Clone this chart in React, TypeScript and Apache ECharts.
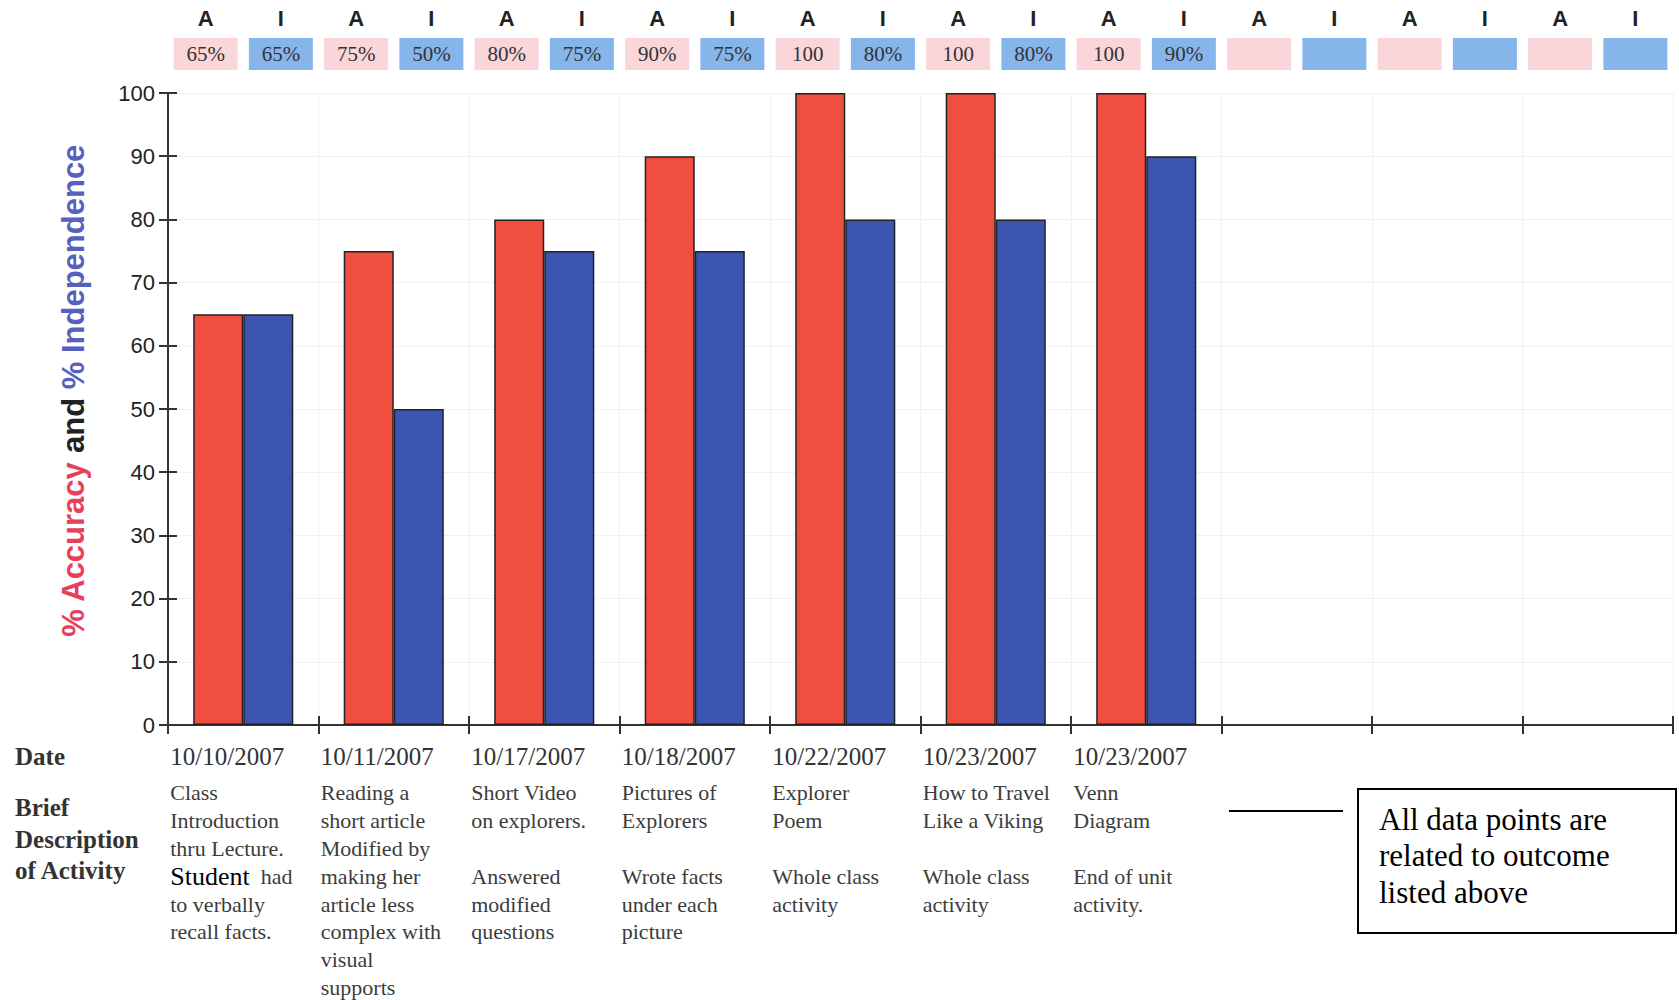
import React, { useEffect, useRef } from "react";
import * as echarts from "echarts";

const dates = ["10/10/2007", "10/11/2007", "10/17/2007", "10/18/2007", "10/22/2007", "10/23/2007", "10/23/2007", "", "", ""];
const descriptions = [
  "Class\nIntroduction\nthru Lecture.\n@@Student@@  had\nto verbally\nrecall facts.",
  "Reading a\nshort article\nModified by\nmaking her\narticle less\ncomplex with\nvisual\nsupports",
  "Short Video\non explorers.\n \nAnswered\nmodified\nquestions",
  "Pictures of\nExplorers\n \nWrote facts\nunder each\npicture",
  "Explorer\nPoem\n \nWhole class\nactivity",
  "How to Travel\nLike a Viking\n \nWhole class\nactivity",
  "Venn\nDiagram\n \nEnd of unit\nactivity.",
  "",
  "",
  "",
];
const accuracy = [65, 75, 80, 90, 100, 100, 100, null, null, null];
const independence = [65, 50, 75, 75, 80, 80, 90, null, null, null];
const headerLetters = ["A", "I"];
const yTicks = { min: 0, max: 100, interval: 10 };
const rowLabels = ["Date", "Brief\nDescription\nof Activity"];
const calloutText = "All data points are\nrelated to outcome\nlisted above";
const yTitleParts = ["% Accuracy", "and", "% Independence"];

const SERIF = "'Liberation Serif', 'Times New Roman', serif";
const SANS = "'Liberation Sans', Arial, sans-serif";

function fmtPct(v: number | null): string {
  if (v === null || v === undefined) return " ";
  return v >= 100 ? String(v) : `${v}%`;
}

export default function App() {
  const ref = useRef<HTMLDivElement>(null);
  useEffect(() => {
    if (!ref.current) return;
    const chart = echarts.init(ref.current, null, { renderer: "svg" });
    const catKeys = dates.map((_, i) => `c${i}`);
    const headerKeys: string[] = [];
    const headerTexts: string[] = [];
    const headerLetterList: string[] = [];
    for (let i = 0; i < dates.length; i++) {
      headerKeys.push(`a${i}`, `i${i}`);
      headerTexts.push(fmtPct(accuracy[i]), fmtPct(independence[i]));
      headerLetterList.push(headerLetters[0], headerLetters[1]);
    }
    const boxBase = {
      width: 64,
      height: 32,
      lineHeight: 32,
      align: "center",
      fontFamily: SERIF,
      fontSize: 21,
      color: "#333",
    };
    const descBase = {
      width: 146,
      align: "left",
      fontFamily: SERIF,
      fontSize: 22,
      lineHeight: 27.8,
      color: "#3c3c3c",
    };
    const option: any = {
      animation: false,
      backgroundColor: "#ffffff",
      grid: { left: 168, right: 6, top: 93, bottom: 275, containLabel: false },
      xAxis: [
        {
          type: "category",
          data: catKeys,
          position: "bottom",
          axisLine: { show: true, lineStyle: { color: "#333", width: 2 } },
          axisTick: { show: true, length: 9, lineStyle: { color: "#333", width: 2 } },
          splitLine: { show: true, lineStyle: { color: "#f1f1f1", width: 1 } },
          axisLabel: {
            interval: 0,
            margin: 8,
            align: "center",
            formatter: (_v: string, idx: number) => {
              const d = dates[idx];
              if (!d) return "";
              const lines = descriptions[idx].split("\n").map((ln) => {
                if (ln.includes("@@")) {
                  const parts = ln.split("@@").filter((p) => p !== "");
                  return `{st|${parts[0]}}{dn|${parts[1]}}`;
                }
                return `{ds|${ln}}`;
              });
              return `{dt|${d}}\n` + lines.join("\n");
            },
            rich: {
              dt: { width: 146, align: "left", fontFamily: SERIF, fontSize: 25, lineHeight: 46, color: "#333" },
              ds: descBase,
              st: { fontFamily: SERIF, fontSize: 26, lineHeight: 27.8, color: "#000", align: "left" },
              dn: { fontFamily: SERIF, fontSize: 22, lineHeight: 27.8, color: "#3c3c3c", align: "left" },
            },
          },
        },
        {
          type: "category",
          data: headerKeys,
          position: "top",
          axisLine: { show: false },
          axisTick: { show: false },
          splitLine: { show: false },
          axisLabel: {
            interval: 0,
            margin: 23,
            formatter: (_v: string, idx: number) =>
              idx % 2 === 0 ? `{a|${headerTexts[idx]}}` : `{i|${headerTexts[idx]}}`,
            rich: {
              a: { ...boxBase, backgroundColor: "#fad5d9" },
              i: { ...boxBase, backgroundColor: "#86b5ec" },
            },
          },
        },
        {
          type: "category",
          data: headerKeys,
          position: "top",
          axisLine: { show: false },
          axisTick: { show: false },
          splitLine: { show: false },
          axisLabel: {
            interval: 0,
            margin: 64,
            formatter: (_v: string, idx: number) => headerLetterList[idx],
            fontFamily: "'Liberation Sans Narrow', 'Liberation Sans', Arial, sans-serif",
            fontWeight: "bold",
            fontSize: 22,
            color: "#222",
          },
        },
        {
          type: "category",
          data: catKeys,
          position: "bottom",
          axisLine: { show: false },
          axisTick: { show: true, inside: true, length: 9, lineStyle: { color: "#333", width: 2 } },
          splitLine: { show: false },
          axisLabel: { show: false },
        },
      ],
      yAxis: [
        {
          type: "value",
          min: yTicks.min,
          max: yTicks.max,
          interval: yTicks.interval,
          axisLine: { show: true, lineStyle: { color: "#333", width: 2 } },
          axisTick: { show: true, length: 9, lineStyle: { color: "#333", width: 2 } },
          splitLine: { show: true, lineStyle: { color: "#f1f1f1", width: 1 } },
          axisLabel: { margin: 13, fontFamily: SANS, fontSize: 22, color: "#222" },
        },
        {
          type: "value",
          min: yTicks.min,
          max: yTicks.max,
          interval: yTicks.interval,
          position: "left",
          axisLine: { show: false },
          axisTick: { show: true, inside: true, length: 9, lineStyle: { color: "#333", width: 2 } },
          splitLine: { show: false },
          axisLabel: { show: false },
        },
      ],
      series: [
        {
          name: "Accuracy",
          type: "bar",
          xAxisIndex: 0,
          yAxisIndex: 0,
          data: accuracy,
          barGap: "0%",
          barCategoryGap: "33.5%",
          itemStyle: { color: "#f04f3f", borderColor: "#222", borderWidth: 1.5 },
        },
        {
          name: "Independence",
          type: "bar",
          xAxisIndex: 0,
          yAxisIndex: 0,
          data: independence,
          barGap: "0%",
          barCategoryGap: "33.5%",
          itemStyle: { color: "#3c55b2", borderColor: "#222", borderWidth: 1.5 },
        },
      ],
      graphic: [
        {
          type: "text",
          x: 73,
          y: 391,
          rotation: Math.PI / 2,
          style: {
            text: `{r|${yTitleParts[0]}\u00a0}{k|${yTitleParts[1]}}{b|\u00a0${yTitleParts[2]}}`,
            align: "center",
            verticalAlign: "middle",
            rich: {
              r: { fontFamily: SANS, fontSize: 31, fontWeight: "bold", fill: "#e8405a" },
              k: { fontFamily: SANS, fontSize: 31, fontWeight: "bold", fill: "#222" },
              b: { fontFamily: SANS, fontSize: 31, fontWeight: "bold", fill: "#5561bd" },
            },
          },
        },
        {
          type: "text",
          x: 15,
          y: 756,
          style: {
            text: rowLabels[0],
            font: `bold 25px ${SERIF}`,
            fill: "#333",
            verticalAlign: "middle",
          },
        },
        {
          type: "text",
          x: 15,
          y: 792,
          style: {
            text: rowLabels[1],
            font: `bold 25px ${SERIF}`,
            lineHeight: 31.5,
            fill: "#333",
            verticalAlign: "top",
          },
        },
        {
          type: "line",
          shape: { x1: 1229, y1: 811, x2: 1343, y2: 811 },
          style: { stroke: "#000", lineWidth: 2 },
        },
        {
          type: "rect",
          shape: { x: 1358, y: 789, width: 318, height: 144 },
          style: { fill: "#fff", stroke: "#000", lineWidth: 2 },
        },
        {
          type: "text",
          x: 1379,
          y: 801,
          style: {
            text: calloutText,
            font: `31px ${SERIF}`,
            lineHeight: 36.5,
            fill: "#000",
            verticalAlign: "top",
          },
        },
      ],
    };
    chart.setOption(option);
    return () => chart.dispose();
  }, []);
  return (
    <div
      ref={ref}
      style={{ position: "fixed", left: 0, top: 0, width: 1679, height: 1000 }}
    />
  );
}
